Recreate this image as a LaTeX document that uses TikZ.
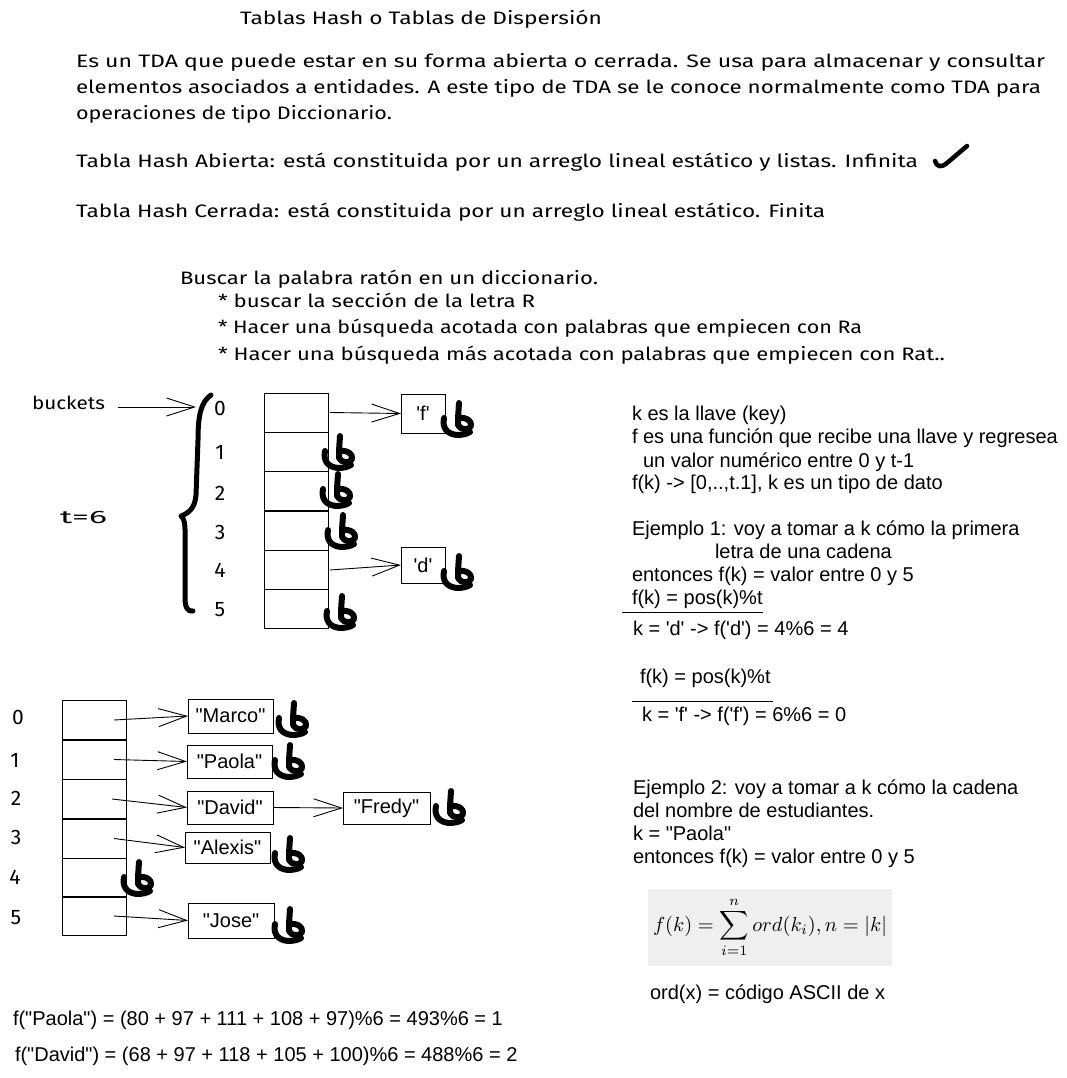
\documentclass[tikz,border=0pt]{standalone}
\usepackage{fontspec}
\setmainfont{Liberation Sans}[Ligatures=TeXOff]
\newfontfamily\hwfont{Fira Sans}
\usepackage{graphicx}
\usetikzlibrary{arrows.meta}
\definecolor{fbg}{RGB}{239,239,239}
\newcommand\hwt[2]{\resizebox{#1}{\height}{#2}}
\newcommand\sq{\textquotesingle}
\begin{document}
\begin{tikzpicture}[x=1pt,y=-1pt,
 every node/.style={inner sep=0pt, outer sep=0pt},
 hw/.style={font=\hwfont\fontsize{18}{20}\selectfont, anchor=west, text height=13pt, text depth=4pt},
 dg/.style={font=\hwfont\fontsize{21}{24}\selectfont, anchor=center},
 ar/.style={font=\fontsize{20}{23}\selectfont, anchor=west, text height=14.5pt, text depth=4pt},
 cell/.style={draw, line width=0.9pt, minimum width=64pt, minimum height=39pt},
 item/.style={draw, line width=0.9pt, font=\fontsize{20}{23}\selectfont},
 arr/.style={line width=0.9pt, -{Straight Barb[length=28pt,width=18pt]}},
 thick stroke/.style={line width=6pt, line cap=round, line join=round},
 nullsym/.pic={
   \draw[thick stroke] (0,-15) -- (-1,0) .. controls (8,-1) and (13,3) .. (12,8) .. controls (11,12) and (2,13) .. (-1,7) -- (-1,0);
   \draw[thick stroke] (-15,0) .. controls (-17,10) and (-12,16) .. (-2,17) .. controls (3,17) and (8,16) .. (11,14);
 }
]
\useasboundingbox (0,0) rectangle (1067,1078);

% ---- header text ----
\node[hw] (title) at (240,20) {\hwt{362pt}{Tablas Hash o Tablas de Dispersión}};
\node[hw] (p1) at (76,63) {\hwt{969pt}{Es un TDA que puede estar en su forma abierta o cerrada. Se usa para almacenar y consultar}};
\node[hw] (p2) at (76,89) {\hwt{965pt}{elementos asociados a entidades. A este tipo de TDA se le conoce normalmente como TDA para}};
\node[hw] (p3) at (76,115) {\hwt{316pt}{operaciones de tipo Diccionario.}};
\node[hw] (ab) at (76,163) {\hwt{842pt}{Tabla Hash Abierta: está constituida por un arreglo lineal estático y listas. Infinita}};
\draw[line width=4.5pt, line cap=round, line join=round] (935,161) .. controls (937,167) and (941,168) .. (947,163) -- (967,146);
\node[hw] (ce) at (76,213) {\hwt{749pt}{Tabla Hash Cerrada: está constituida por un arreglo lineal estático. Finita}};
\node[hw] (bu) at (180,280) {\hwt{418pt}{Buscar la palabra ratón en un diccionario.}};
\node[hw] (b1) at (218,303) {\hwt{317pt}{* buscar la sección de la letra R}};
\node[hw] (b2) at (218,329) {\hwt{644pt}{* Hacer una búsqueda acotada con palabras que empiecen con Ra}};
\node[hw] (b3) at (218,356) {\hwt{727pt}{* Hacer una búsqueda más acotada con palabras que empiecen con Rat..}};

% ---- diagram 1 ----
\node[hw] (buckets) at (32,405) {\hwt{73pt}{buckets}};
\coordinate (bracetop) at (196,407);
\draw[arr] (buckets.east) ++(13,2) -- (bracetop);
\node[hw] (t6) at (60,519) {\hwt{47pt}{t=6}};
\draw[line width=5pt, line cap=round, line join=round] (211,395) .. controls (201,402) and (198,415) .. (198,440) -- (196,495) .. controls (195,508) and (189,513) .. (181,516) .. controls (186,520) and (185,530) .. (185,545) -- (185,598) .. controls (185,608) and (188,612) .. (193,611);
\foreach \i/\y in {0/408,1/452,2/493,3/532,4/570,5/610} {\node[dg] (n\i) at (220,\y) {\i};}
\foreach \i/\y in {0/412.5,1/452,2/491,3/530.5,4/570,5/608.5} {\node[cell] (a\i) at (296,\y) {};}
\node[item, minimum width=44pt, minimum height=39pt] (kf) at (423,413.5) {\sq f\sq};
\node[item, minimum width=44pt, minimum height=36pt] (kd) at (423,565) {\sq d\sq};
\draw[arr] ([xshift=2pt]a0.east) -- (kf.west);
\draw[arr] ([xshift=2pt]a4.east) -- (kd.west);
\pic at (459,418) {nullsym};
\pic at (340,451) {nullsym};
\pic at (338,489) {nullsym};
\pic at (343,530) {nullsym};
\pic at (459,571) {nullsym};
\pic at (342,611) {nullsym};

% ---- diagram 2 ----
\foreach \i/\x/\y in {0/18/717,1/15/760,2/16/798,3/16/837,4/15/877,5/16/918} {\node[dg] (q\i) at (\x,\y) {\i};}
\foreach \i/\y in {0/720,1/759.5,2/799,3/838.5,4/877.5,5/916} {\node[cell] (c\i) at (94,\y) {};}
\node[item, minimum width=85pt, minimum height=34pt] (m0) at (230.5,716) {"Marco"};
\node[item, minimum width=85pt, minimum height=33pt] (m1) at (229.5,761.5) {"Paola"};
\node[item, minimum width=86pt, minimum height=33pt] (m2) at (230,807.5) {"David"};
\node[item, minimum width=87pt, minimum height=32pt] (m6) at (386.5,808) {"Fredy"};
\node[item, minimum width=85pt, minimum height=31pt] (m3) at (227.5,847.5) {"Alexis"};
\node[item, minimum width=86pt, minimum height=35pt] (m5) at (231,920.5) {"Jose"};
\draw[arr] ([xshift=-12pt]c0.east) -- (m0.west);
\draw[arr] ([xshift=-12pt]c1.east) -- (m1.west);
\draw[arr] ([xshift=-14pt]c2.east) -- (m2.west);
\draw[arr] ([xshift=-12pt]c3.east) -- (m3.west);
\draw[arr] ([xshift=-12pt]c5.east) -- (m5.west);
\draw[arr] (m2.east) -- (m6.west);
\pic at (294,718) {nullsym};
\pic at (290,760) {nullsym};
\pic at (451,806) {nullsym};
\pic at (290,853) {nullsym};
\pic at (139,877) {nullsym};
\pic at (290,924) {nullsym};

% ---- right text ----
\node[ar] (r1) at (632,415) {k es la llave (key)};
\node[ar] (r2) at (632,438) {f es una función que recibe una llave y regresea};
\node[ar] (r3) at (643,462) {un valor numérico entre 0 y t-1};
\node[ar] (r4) at (632,484) {f(k) -> [0,..,t.1], k es un tipo de dato};
\node[ar] (r5) at (632,530) {Ejemplo 1: voy a tomar a k cómo la primera};
\node[ar] (r6) at (715,553) {letra de una cadena};
\node[ar] (r7) at (632,576) {entonces f(k) = valor entre 0 y 5};
\node[ar] (r8) at (632,599) {f(k) = pos(k)\%t};
\coordinate (u1a) at (622,612);
\coordinate (u1b) at (763,612);
\draw[line width=1pt] (u1a) -- (u1b);
\node[ar] (r9) at (633,630) {k = \sq d\sq{} -> f(\sq d\sq) = 4\%6 = 4};
\node[ar] (r10) at (640,678) {f(k) = pos(k)\%t};
\coordinate (u2a) at (632,701);
\coordinate (u2b) at (773,701);
\draw[line width=1pt] (u2a) -- (u2b);
\node[ar] (r11) at (642,716) {k = \sq f\sq{} -> f(\sq f\sq) = 6\%6 = 0};
\node[ar] (r12) at (633,789) {Ejemplo 2: voy a tomar a k cómo la cadena};
\node[ar] (r13) at (633,812) {del nombre de estudiantes.};
\node[ar] (r14) at (633,835) {k = "Paola"};
\node[ar] (r15) at (633,858) {entonces f(k) = valor entre 0 y 5};
\node[fill=fbg, minimum width=244pt, minimum height=77pt] (fbox) at (770,927.5) {\resizebox{234pt}{!}{$\displaystyle f(k) = \sum_{i=1}^{n} ord(k_i), n = |k|$}};
\node[ar] (r16) at (650,994) {ord(x) = código ASCII de x};

% ---- bottom ----
\node[ar] (e1) at (13,1020) {f("Paola") = (80 + 97 + 111 + 108 + 97)\%6 = 493\%6 = 1};
\node[ar] (e2) at (15,1056) {f("David") = (68 + 97 + 118 + 105 + 100)\%6 = 488\%6 = 2};
\end{tikzpicture}
\end{document}
